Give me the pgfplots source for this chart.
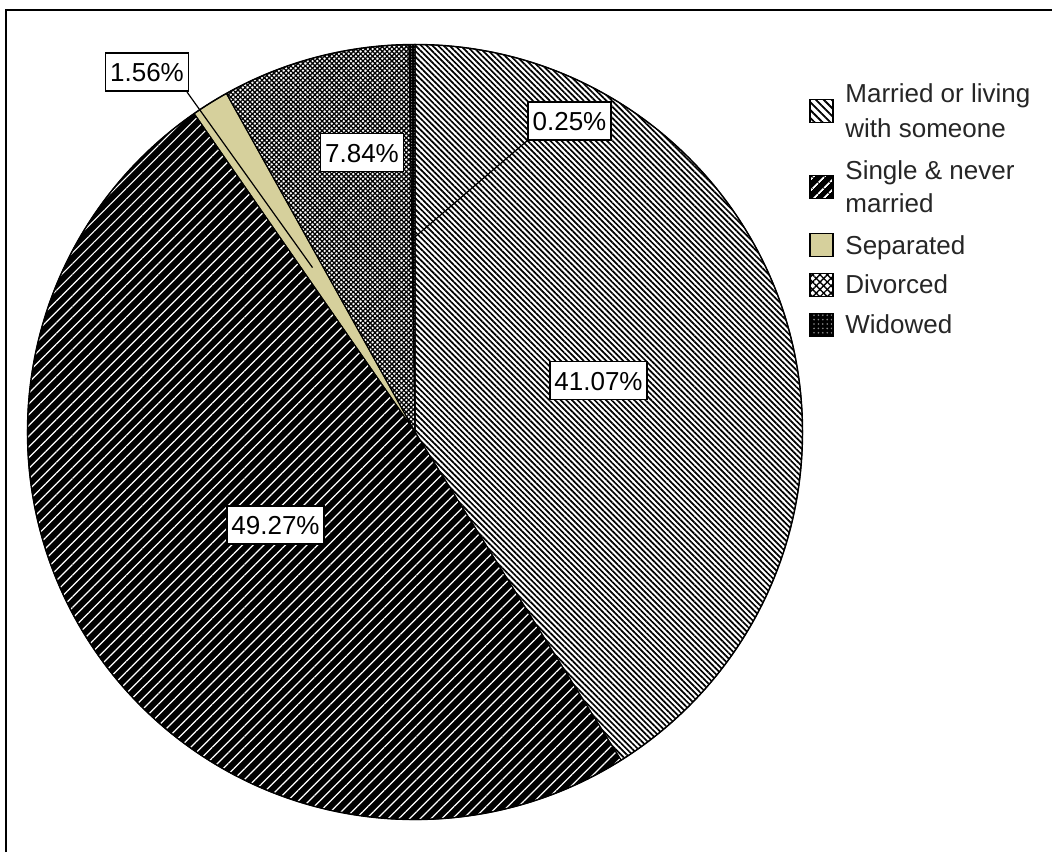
\documentclass[border=0pt]{standalone}
\usepackage{pgfplots}
\pgfplotsset{compat=1.18}
\usepackage{pgfplotstable}
\usepackage{fontspec}
\setmainfont{Liberation Sans}
\usetikzlibrary{patterns.meta}

\definecolor{sepkhaki}{RGB}{214,208,156}

% Marital status, percent of respondents (clockwise from 12 o'clock)
\pgfplotstableread[col sep=comma]{
status,share
Married,41.07
Single,49.27
Separated,1.56
Divorced,7.84
Widowed,0.25
}\maritaltable

% slice angles from the shares
\pgfplotstablegetrowsof{\maritaltable}
\pgfmathtruncatemacro\lastslice{\pgfplotsretval-1}
\def\sharetotal{0}
\pgfplotsforeachungrouped \i in {0,...,\lastslice}{%
  \pgfplotstablegetelem{\i}{share}\of\maritaltable
  \pgfmathsetmacro\sharetotal{\sharetotal+\pgfplotsretval}%
}
\def\sharecumul{0}
\pgfplotsforeachungrouped \i in {0,...,\lastslice}{%
  \pgfplotstablegetelem{\i}{share}\of\maritaltable
  \let\share\pgfplotsretval
  \expandafter\xdef\csname pieV\i\endcsname{\share}%
  \pgfmathsetmacro\sa{90-360*(\sharecumul/\sharetotal)}%
  \pgfmathsetmacro\sharecumul{\sharecumul+\share}%
  \pgfmathsetmacro\ea{90-360*(\sharecumul/\sharetotal)}%
  \pgfmathsetmacro\ma{(\sa+\ea)/2}%
  \expandafter\xdef\csname pieS\i\endcsname{\sa}%
  \expandafter\xdef\csname pieE\i\endcsname{\ea}%
  \expandafter\xdef\csname pieM\i\endcsname{\ma}%
}

\def\pieR{193.75pt}
\def\pieRhalf{96.875pt}
\newcommand\pieslice[2]{%
  \path[#2] (axis cs:415,420) -- ++(\csname pieS#1\endcsname:\pieR)
    arc[start angle=\csname pieS#1\endcsname,end angle=\csname pieE#1\endcsname,radius=\pieR] -- cycle;}

\tikzset{
  pct/.style={draw=black, line width=0.75pt, fill=white,
    font=\fontsize{13}{15}\selectfont, inner xsep=2.2pt, inner ysep=0pt,
    text height=9.6pt, text depth=0pt, minimum height=19pt, anchor=center},
  legtext/.style={anchor=base west, inner sep=0pt, text=black!85,
    font=\fontsize{13}{15}\selectfont},
  legbox/.style={draw=black, line width=0.7pt},
}

\begin{document}
\begin{tikzpicture}
\begin{axis}[
  width=526pt, height=426pt, scale only axis,
  xmin=0, xmax=1052, ymin=0, ymax=852,
  hide axis, clip=false,
]
\path[fill=white] (axis cs:0,0) rectangle (axis cs:1052,852);
\coordinate (bbSW) at (axis cs:0,0);
\coordinate (bbNE) at (axis cs:1052,852);

% slices
\pieslice{0}{fill=white}
\pieslice{0}{pattern={Lines[angle=-45,distance=2pt,line width=0.85pt]}}
\pieslice{1}{fill=black}
\pieslice{1}{pattern={Lines[angle=45,distance=3.8pt,line width=0.6pt]},pattern color=white}
\pieslice{2}{fill=sepkhaki}
\pieslice{3}{fill=white}
\pieslice{3}{pattern={Lines[angle=45,distance=1.7pt,line width=0.65pt]}}
\pieslice{3}{pattern={Lines[angle=-45,distance=1.7pt,line width=0.65pt]}}
\pieslice{4}{fill=black}
\pieslice{4}{pattern={Dots[distance=1.4pt,radius=0.3pt]},pattern color=white!60!black}
\pgfplotsinvokeforeach{0,...,4}{\pieslice{#1}{draw=black,line width=0.5pt,line join=round}}
\draw[line width=0.7pt] (axis cs:415,420) circle[radius=\pieR];

% leader lines for the two small slices
\draw[line width=0.6pt] (axis cs:415,420) ++(\csname pieM4\endcsname:\pieRhalf) -- (axis cs:528,712);
\draw[line width=0.6pt] (axis cs:415,420) ++(\csname pieM2\endcsname:\pieRhalf) -- (axis cs:187,760);

% value labels
\node[pct] at (axis cs:598.5,471.5) {\csname pieV0\endcsname\%};
\node[pct] at (axis cs:275.5,327)   {\csname pieV1\endcsname\%};
\node[pct] at (axis cs:147,780)     {\csname pieV2\endcsname\%};
\node[pct] at (axis cs:362,699.5)   {\csname pieV3\endcsname\%};
\node[pct] at (axis cs:569.5,731)   {\csname pieV4\endcsname\%};

% legend
\fill[white] (axis cs:810,729.5) rectangle (axis cs:833,752.5);
\fill[pattern={Lines[angle=-45,distance=2.8pt,line width=0.9pt]}] (axis cs:810,729.5) rectangle (axis cs:833,752.5);
\draw[legbox] (axis cs:810,729.5) rectangle (axis cs:833,752.5);
\fill[black] (axis cs:810,653.5) rectangle (axis cs:833,676.5);
\fill[pattern={Lines[angle=45,distance=4pt,line width=1pt]},pattern color=white] (axis cs:810,653.5) rectangle (axis cs:833,676.5);
\draw[legbox] (axis cs:810,653.5) rectangle (axis cs:833,676.5);
\draw[legbox,fill=sepkhaki] (axis cs:810,595.5) rectangle (axis cs:833,618.5);
\fill[white] (axis cs:810,555.5) rectangle (axis cs:833,578.5);
\fill[pattern={Lines[angle=45,distance=2.6pt,line width=0.7pt]}] (axis cs:810,555.5) rectangle (axis cs:833,578.5);
\fill[pattern={Lines[angle=-45,distance=2.6pt,line width=0.7pt]}] (axis cs:810,555.5) rectangle (axis cs:833,578.5);
\draw[legbox] (axis cs:810,555.5) rectangle (axis cs:833,578.5);
\fill[black] (axis cs:810,515.5) rectangle (axis cs:833,538.5);
\fill[pattern={Dots[distance=2.2pt,radius=0.45pt]},pattern color=white!55!black] (axis cs:810,515.5) rectangle (axis cs:833,538.5);
\draw[legbox] (axis cs:810,515.5) rectangle (axis cs:833,538.5);

\node[legtext] at (axis cs:845,749) {Married or living};
\node[legtext] at (axis cs:845,714) {with someone};
\node[legtext] at (axis cs:845,672) {Single \& never};
\node[legtext] at (axis cs:845,639) {married};
\node[legtext] at (axis cs:845,597) {Separated};
\node[legtext] at (axis cs:845,559) {Divorced};
\node[legtext] at (axis cs:845,519) {Widowed};

% frame
\draw[line width=1pt] (axis cs:6,0) -- (axis cs:6,842) -- (axis cs:1052,842);
\end{axis}
\pgfresetboundingbox
\useasboundingbox (bbSW) rectangle (bbNE);
\end{tikzpicture}
\end{document}
